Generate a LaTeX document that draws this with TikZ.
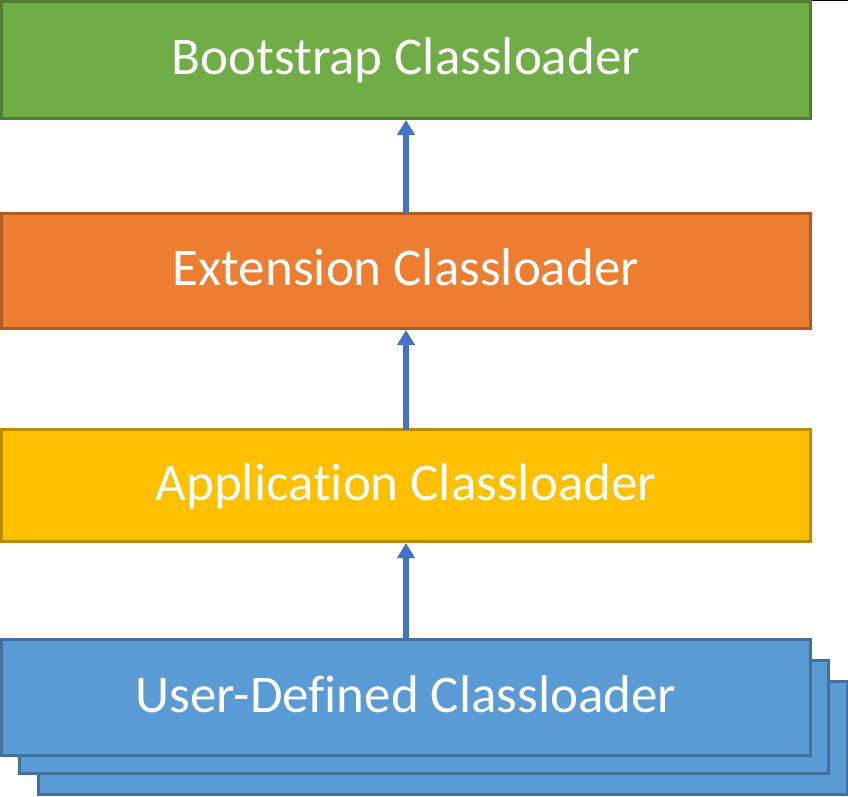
\documentclass[tikz,border=0pt]{standalone}
\usepackage{fontspec}
\setmainfont[Ligatures={NoCommon,NoRare}]{Carlito}
\usetikzlibrary{arrows.meta}
\definecolor{gfill}{HTML}{70AD47}\definecolor{gline}{HTML}{507E32}
\definecolor{ofill}{HTML}{ED7D31}\definecolor{oline}{HTML}{AE5A21}
\definecolor{yfill}{HTML}{FFC000}\definecolor{yline}{HTML}{BC8C00}
\definecolor{bfill}{HTML}{5B9BD5}\definecolor{bline}{HTML}{41719C}
\definecolor{arr}{HTML}{4472C4}
\newcommand{\lbl}[1]{\raisebox{-14.5pt}[0pt][0pt]{#1}}
\tikzset{
  loader/.style={draw, line width=3pt, rectangle, outer sep=0pt, inner sep=0pt,
    text=white, font=\fontsize{53}{60}\selectfont, minimum width=809pt},
  up/.style={draw=arr, line width=6pt, -{Triangle[width=17pt,length=15pt]}}
}
\begin{document}
\begin{tikzpicture}[x=1pt,y=-1pt]
\useasboundingbox (0,0) rectangle (848,796);
\draw[line width=1pt] (0,0.5) -- (848,0.5);
\node[loader, fill=gfill, draw=gline, minimum height=117pt] (boot) at (406,60) {\lbl{Bootstrap Classloader}};
\node[loader, fill=ofill, draw=oline, minimum height=115pt] (ext) at (406,271) {\lbl{Extension Classloader}};
\node[loader, fill=yfill, draw=yline, minimum height=112pt] (app) at (406,485.5) {\lbl{Application Classloader}};
\node[loader, fill=bfill, draw=bline, minimum height=113pt] (user3) at (443,738) {};
\node[loader, fill=bfill, draw=bline, minimum height=113pt] (user2) at (424,717) {};
\node[loader, fill=bfill, draw=bline, minimum height=116pt] (user) at (406,697.5) {\lbl{User-Defined Classloader}};
\draw[up] (ext.north) -- ([yshift=-1.5pt]boot.south);
\draw[up] (app.north) -- ([yshift=-1.5pt]ext.south);
\draw[up] (user.north) -- ([yshift=-1.5pt]app.south);
\end{tikzpicture}
\end{document}
